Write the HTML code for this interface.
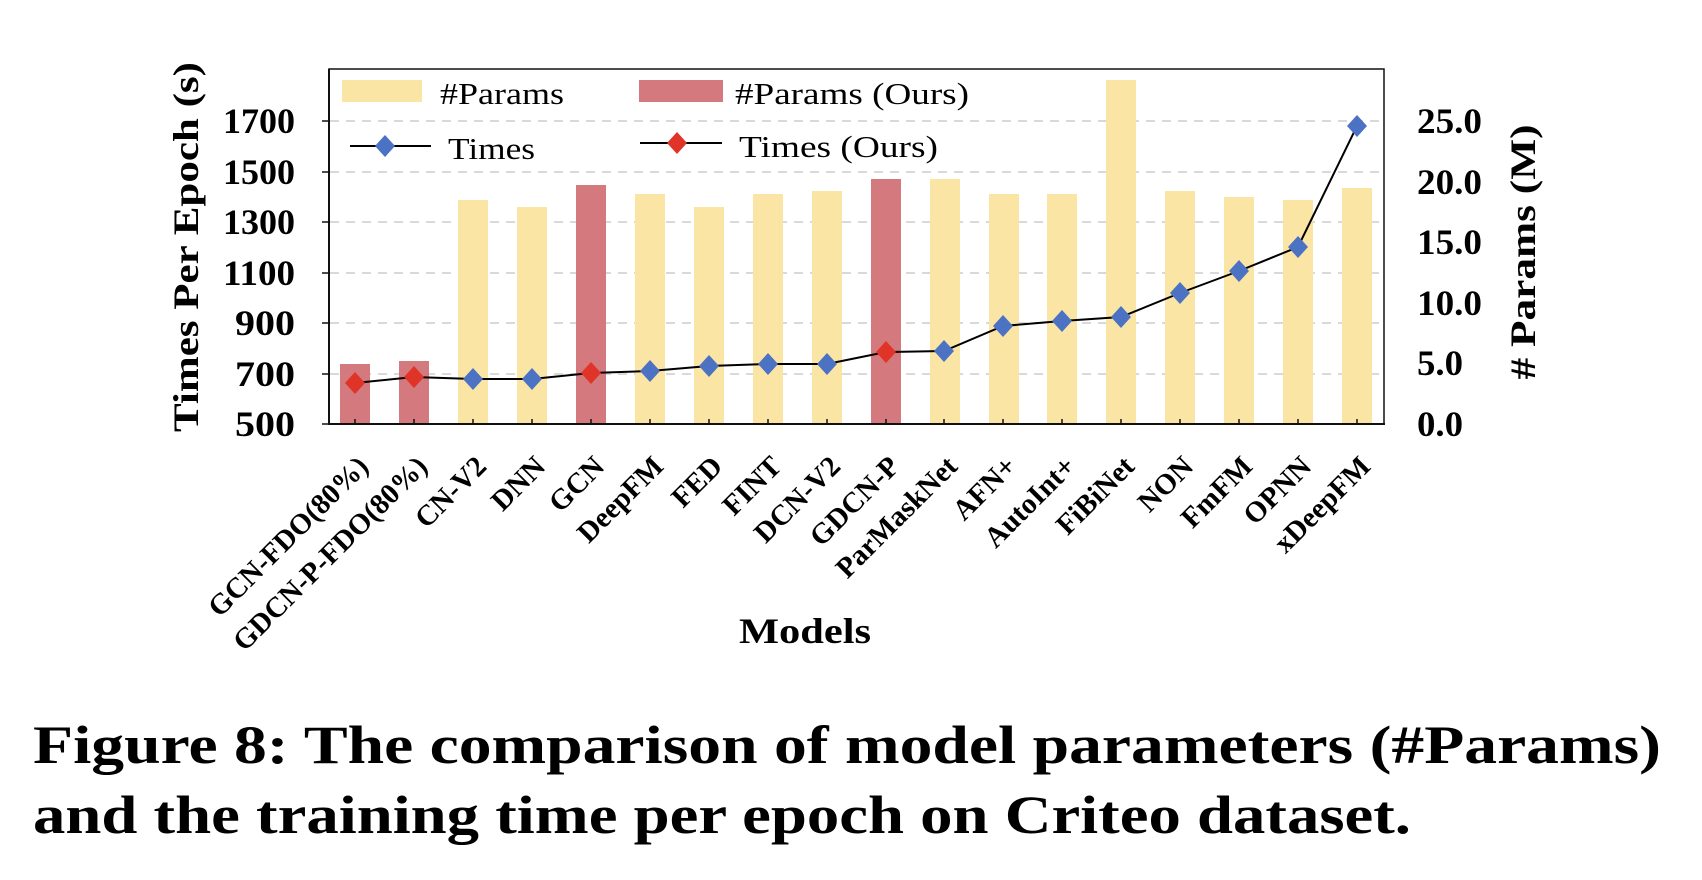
<!DOCTYPE html>
<html><head><meta charset="utf-8"><style>
html,body{margin:0;padding:0;background:#fff;}
svg{display:block;}
text{font-family:"Liberation Serif",serif;}
</style></head><body>
<svg width="1702" height="880" viewBox="0 0 1702 880" xmlns="http://www.w3.org/2000/svg">
<g stroke="#d9d9d9" stroke-width="2" stroke-dasharray="9,7">
<line x1="330" y1="374" x2="1384" y2="374"/>
<line x1="330" y1="323" x2="1384" y2="323"/>
<line x1="330" y1="273" x2="1384" y2="273"/>
<line x1="330" y1="222" x2="1384" y2="222"/>
<line x1="330" y1="172" x2="1384" y2="172"/>
<line x1="330" y1="121" x2="1384" y2="121"/>
</g>
<g>
<rect x="340" y="364" width="30" height="59" fill="#D4797D"/>
<rect x="399" y="361" width="30" height="62" fill="#D4797D"/>
<rect x="458" y="200" width="30" height="223" fill="#FAE5A5"/>
<rect x="517" y="207" width="30" height="216" fill="#FAE5A5"/>
<rect x="576" y="185" width="30" height="238" fill="#D4797D"/>
<rect x="635" y="194" width="30" height="229" fill="#FAE5A5"/>
<rect x="694" y="207" width="30" height="216" fill="#FAE5A5"/>
<rect x="753" y="194" width="30" height="229" fill="#FAE5A5"/>
<rect x="812" y="191" width="30" height="232" fill="#FAE5A5"/>
<rect x="871" y="179" width="30" height="244" fill="#D4797D"/>
<rect x="930" y="179" width="30" height="244" fill="#FAE5A5"/>
<rect x="989" y="194" width="30" height="229" fill="#FAE5A5"/>
<rect x="1047" y="194" width="30" height="229" fill="#FAE5A5"/>
<rect x="1106" y="80" width="30" height="343" fill="#FAE5A5"/>
<rect x="1165" y="191" width="30" height="232" fill="#FAE5A5"/>
<rect x="1224" y="197" width="30" height="226" fill="#FAE5A5"/>
<rect x="1283" y="200" width="30" height="223" fill="#FAE5A5"/>
<rect x="1342" y="188" width="30" height="235" fill="#FAE5A5"/>
</g>
<rect x="329" y="69" width="1055" height="355" fill="none" stroke="#111" stroke-width="1.5"/>
<line x1="329" y1="424" x2="1385" y2="424" stroke="#111" stroke-width="2"/>
<line x1="329" y1="69" x2="329" y2="425" stroke="#111" stroke-width="2"/>
<g stroke="#111" stroke-width="1.5">
<line x1="322" y1="424" x2="329" y2="424"/><line x1="322" y1="374" x2="329" y2="374"/><line x1="322" y1="323" x2="329" y2="323"/><line x1="322" y1="273" x2="329" y2="273"/><line x1="322" y1="222" x2="329" y2="222"/><line x1="322" y1="172" x2="329" y2="172"/><line x1="322" y1="121" x2="329" y2="121"/>
<line x1="355" y1="419" x2="355" y2="424"/><line x1="414" y1="419" x2="414" y2="424"/><line x1="473" y1="419" x2="473" y2="424"/><line x1="532" y1="419" x2="532" y2="424"/><line x1="591" y1="419" x2="591" y2="424"/><line x1="650" y1="419" x2="650" y2="424"/><line x1="709" y1="419" x2="709" y2="424"/><line x1="768" y1="419" x2="768" y2="424"/><line x1="827" y1="419" x2="827" y2="424"/><line x1="886" y1="419" x2="886" y2="424"/><line x1="944" y1="419" x2="944" y2="424"/><line x1="1003" y1="419" x2="1003" y2="424"/><line x1="1062" y1="419" x2="1062" y2="424"/><line x1="1121" y1="419" x2="1121" y2="424"/><line x1="1180" y1="419" x2="1180" y2="424"/><line x1="1239" y1="419" x2="1239" y2="424"/><line x1="1298" y1="419" x2="1298" y2="424"/><line x1="1357" y1="419" x2="1357" y2="424"/>
</g>
<polyline fill="none" stroke="#000" stroke-width="2" points="355,383 414,377 473,379 532,379 591,373 650,371 709,366 768,364 827,364 886,352 944,351 1003,326 1062,321 1121,317 1180,293 1239,271 1298,247 1357,126"/>
<g fill="#4C72C4">
<path d="M473,368 l10,11 -10,11 -10,-11z"/><path d="M532,368 l10,11 -10,11 -10,-11z"/><path d="M650,360 l10,11 -10,11 -10,-11z"/><path d="M709,355 l10,11 -10,11 -10,-11z"/><path d="M768,353 l10,11 -10,11 -10,-11z"/><path d="M827,353 l10,11 -10,11 -10,-11z"/><path d="M944,340 l10,11 -10,11 -10,-11z"/><path d="M1003,315 l10,11 -10,11 -10,-11z"/><path d="M1062,310 l10,11 -10,11 -10,-11z"/><path d="M1121,306 l10,11 -10,11 -10,-11z"/><path d="M1180,282 l10,11 -10,11 -10,-11z"/><path d="M1239,260 l10,11 -10,11 -10,-11z"/><path d="M1298,236 l10,11 -10,11 -10,-11z"/><path d="M1357,115 l10,11 -10,11 -10,-11z"/>
</g>
<g fill="#E03428">
<path d="M355,372 l10,11 -10,11 -10,-11z"/><path d="M414,366 l10,11 -10,11 -10,-11z"/><path d="M591,362 l10,11 -10,11 -10,-11z"/><path d="M886,341 l10,11 -10,11 -10,-11z"/>
</g>
<rect x="342" y="80" width="80" height="22" fill="#FAE5A5"/>
<text x="440" y="104" font-size="31" textLength="124" lengthAdjust="spacingAndGlyphs">#Params</text>
<rect x="639" y="80" width="84" height="22" fill="#D4797D"/>
<text x="735" y="104" font-size="31" textLength="234" lengthAdjust="spacingAndGlyphs">#Params (Ours)</text>
<line x1="350" y1="146" x2="431" y2="146" stroke="#000" stroke-width="2"/>
<path d="M385,135 l10,11 -10,11 -10,-11z" fill="#4C72C4"/>
<text x="448" y="159" font-size="31" textLength="87" lengthAdjust="spacingAndGlyphs">Times</text>
<line x1="640" y1="143" x2="722" y2="143" stroke="#000" stroke-width="2"/>
<path d="M677,132 l10,11 -10,11 -10,-11z" fill="#E03428"/>
<text x="739" y="157" font-size="31" textLength="199" lengthAdjust="spacingAndGlyphs">Times (Ours)</text>
<g font-size="36" font-weight="bold" text-anchor="end">
<text x="295" y="436" textLength="60" lengthAdjust="spacingAndGlyphs">500</text>
<text x="295" y="386" textLength="60" lengthAdjust="spacingAndGlyphs">700</text>
<text x="295" y="335" textLength="60" lengthAdjust="spacingAndGlyphs">900</text>
<text x="295" y="285" textLength="72" lengthAdjust="spacingAndGlyphs">1100</text>
<text x="295" y="234" textLength="72" lengthAdjust="spacingAndGlyphs">1300</text>
<text x="295" y="184" textLength="72" lengthAdjust="spacingAndGlyphs">1500</text>
<text x="295" y="133" textLength="72" lengthAdjust="spacingAndGlyphs">1700</text>
</g>
<g font-size="36" font-weight="bold">
<text x="1417" y="436" textLength="46" lengthAdjust="spacingAndGlyphs">0.0</text>
<text x="1417" y="375" textLength="46" lengthAdjust="spacingAndGlyphs">5.0</text>
<text x="1417" y="315" textLength="65" lengthAdjust="spacingAndGlyphs">10.0</text>
<text x="1417" y="254" textLength="65" lengthAdjust="spacingAndGlyphs">15.0</text>
<text x="1417" y="194" textLength="65" lengthAdjust="spacingAndGlyphs">20.0</text>
<text x="1417" y="133" textLength="65" lengthAdjust="spacingAndGlyphs">25.0</text>
</g>
<text transform="translate(198,247) rotate(-90)" text-anchor="middle" font-size="36" font-weight="bold" textLength="370" lengthAdjust="spacingAndGlyphs">Times Per Epoch (s)</text>
<text transform="translate(1535,252) rotate(-90)" text-anchor="middle" font-size="36" font-weight="bold" textLength="255" lengthAdjust="spacingAndGlyphs">#  Params (M)</text>
<g font-size="29" font-weight="bold" text-anchor="end">
<text transform="translate(370,468) rotate(-45)">GCN-FDO(80%)</text>
<text transform="translate(429,468) rotate(-45)">GDCN-P-FDO(80%)</text>
<text transform="translate(488,468) rotate(-45)">CN-V2</text>
<text transform="translate(547,468) rotate(-45)">DNN</text>
<text transform="translate(606,468) rotate(-45)">GCN</text>
<text transform="translate(665,468) rotate(-45)">DeepFM</text>
<text transform="translate(724,468) rotate(-45)">FED</text>
<text transform="translate(783,468) rotate(-45)">FINT</text>
<text transform="translate(842,468) rotate(-45)">DCN-V2</text>
<text transform="translate(901,468) rotate(-45)">GDCN-P</text>
<text transform="translate(959,468) rotate(-45)">ParMaskNet</text>
<text transform="translate(1018,468) rotate(-45)">AFN+</text>
<text transform="translate(1077,468) rotate(-45)">AutoInt+</text>
<text transform="translate(1136,468) rotate(-45)">FiBiNet</text>
<text transform="translate(1195,468) rotate(-45)">NON</text>
<text transform="translate(1254,468) rotate(-45)">FmFM</text>
<text transform="translate(1313,468) rotate(-45)">OPNN</text>
<text transform="translate(1372,468) rotate(-45)">xDeepFM</text>
</g>
<text x="805" y="643" text-anchor="middle" font-size="36" font-weight="bold" textLength="132" lengthAdjust="spacingAndGlyphs">Models</text>
<text x="33" y="763" font-size="54" font-weight="bold" textLength="1628" lengthAdjust="spacingAndGlyphs">Figure 8: The comparison of model parameters (#Params)</text>
<text x="33" y="833" font-size="54" font-weight="bold" textLength="1378" lengthAdjust="spacingAndGlyphs">and the training time per epoch on Criteo dataset.</text>
</svg>
</body></html>
